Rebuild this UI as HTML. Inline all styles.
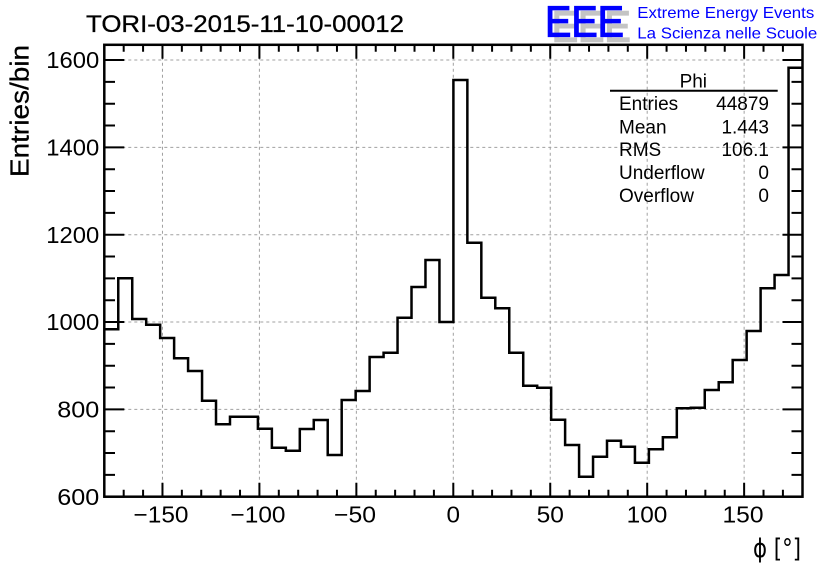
<!DOCTYPE html>
<html>
<head>
<meta charset="utf-8">
<style>
html,body{margin:0;padding:0;background:#fff;}
svg{display:block;}
text{font-family:"Liberation Sans",Arial,sans-serif;}
</style>
</head>
<body>
<svg width="836" height="572" viewBox="0 0 836 572" xmlns="http://www.w3.org/2000/svg">
<rect width="836" height="572" fill="#fff"/>

<!-- grid -->
<g stroke="#a0a0a0" stroke-width="1" stroke-dasharray="3,3" fill="none">
<path d="M162.47,44.8V496.7 M259.41,44.8V496.7 M356.36,44.8V496.7 M453.3,44.8V496.7 M550.24,44.8V496.7 M647.19,44.8V496.7 M744.13,44.8V496.7"/>
<path d="M104.3,409.37H802.5 M104.3,322.03H802.5 M104.3,234.7H802.5 M104.3,147.37H802.5 M104.3,60.03H802.5"/>
</g>

<!-- histogram -->
<path fill="none" stroke="#000" stroke-width="2.5" stroke-linejoin="miter" d="M104.3,329.3 H118.26 V278.3 H132.23 V319 H146.19 V324.7 H160.16 V338 H174.12 V358.3 H188.08 V371 H202.05 V400.7 H216.01 V424.3 H229.98 V416.7 H243.94 V416.7 H257.9 V428.7 H271.87 V447.7 H285.83 V450.7 H299.8 V429 H313.76 V420 H327.72 V455 H341.69 V400 H355.65 V391 H369.62 V357 H383.58 V352.7 H397.54 V317.7 H411.51 V287 H425.47 V260 H439.44 V322 H453.4 V80 H467.36 V242.7 H481.33 V297.7 H495.29 V308.3 H509.26 V352.7 H523.22 V385.7 H537.18 V387.7 H551.15 V419.7 H565.11 V445 H579.08 V476.7 H593.04 V456.7 H607 V440.7 H620.97 V446.7 H634.93 V462.7 H648.9 V449.3 H662.86 V437.3 H676.82 V408.3 H690.79 V407.7 H704.75 V390 H718.72 V382.3 H732.68 V360 H746.64 V331 H760.61 V288.3 H774.57 V275 H788.54 V67.7 H802.5"/>

<!-- frame -->
<rect x="104.3" y="44.8" width="698.2" height="451.9" fill="none" stroke="#000" stroke-width="2.5"/>

<!-- ticks -->
<g stroke="#000" stroke-width="2" fill="none">
<path d="M162.47,496.7V482.7 M259.41,496.7V482.7 M356.36,496.7V482.7 M453.3,496.7V482.7 M550.24,496.7V482.7 M647.19,496.7V482.7 M744.13,496.7V482.7"/>
<path d="M162.47,44.8V58.8 M259.41,44.8V58.8 M356.36,44.8V58.8 M453.3,44.8V58.8 M550.24,44.8V58.8 M647.19,44.8V58.8 M744.13,44.8V58.8"/>
<path d="M123.69,496.7V489.7 M143.08,496.7V489.7 M181.86,496.7V489.7 M201.24,496.7V489.7 M220.63,496.7V489.7 M240.02,496.7V489.7 M278.8,496.7V489.7 M298.19,496.7V489.7 M317.58,496.7V489.7 M336.97,496.7V489.7 M375.74,496.7V489.7 M395.13,496.7V489.7 M414.52,496.7V489.7 M433.91,496.7V489.7 M472.69,496.7V489.7 M492.08,496.7V489.7 M511.47,496.7V489.7 M530.86,496.7V489.7 M569.63,496.7V489.7 M589.02,496.7V489.7 M608.41,496.7V489.7 M627.8,496.7V489.7 M666.58,496.7V489.7 M685.97,496.7V489.7 M705.36,496.7V489.7 M724.74,496.7V489.7 M763.52,496.7V489.7 M782.91,496.7V489.7"/>
<path d="M123.69,44.8V51.8 M143.08,44.8V51.8 M181.86,44.8V51.8 M201.24,44.8V51.8 M220.63,44.8V51.8 M240.02,44.8V51.8 M278.8,44.8V51.8 M298.19,44.8V51.8 M317.58,44.8V51.8 M336.97,44.8V51.8 M375.74,44.8V51.8 M395.13,44.8V51.8 M414.52,44.8V51.8 M433.91,44.8V51.8 M472.69,44.8V51.8 M492.08,44.8V51.8 M511.47,44.8V51.8 M530.86,44.8V51.8 M569.63,44.8V51.8 M589.02,44.8V51.8 M608.41,44.8V51.8 M627.8,44.8V51.8 M666.58,44.8V51.8 M685.97,44.8V51.8 M705.36,44.8V51.8 M724.74,44.8V51.8 M763.52,44.8V51.8 M782.91,44.8V51.8"/>
<path d="M104.3,496.7H124.3 M104.3,409.37H124.3 M104.3,322.03H124.3 M104.3,234.7H124.3 M104.3,147.37H124.3 M104.3,60.03H124.3"/>
<path d="M802.5,496.7H782.5 M802.5,409.37H782.5 M802.5,322.03H782.5 M802.5,234.7H782.5 M802.5,147.37H782.5 M802.5,60.03H782.5"/>
<path d="M104.3,474.87H115 M104.3,453.03H115 M104.3,431.2H115 M104.3,387.53H115 M104.3,365.7H115 M104.3,343.87H115 M104.3,300.2H115 M104.3,278.37H115 M104.3,256.53H115 M104.3,212.87H115 M104.3,191.03H115 M104.3,169.2H115 M104.3,125.53H115 M104.3,103.7H115 M104.3,81.87H115"/>
<path d="M802.5,474.87H791.5 M802.5,453.03H791.5 M802.5,431.2H791.5 M802.5,387.53H791.5 M802.5,365.7H791.5 M802.5,343.87H791.5 M802.5,300.2H791.5 M802.5,278.37H791.5 M802.5,256.53H791.5 M802.5,212.87H791.5 M802.5,191.03H791.5 M802.5,169.2H791.5 M802.5,125.53H791.5 M802.5,103.7H791.5 M802.5,81.87H791.5"/>
</g>

<!-- y tick labels -->
<g font-size="23" fill="#000" text-anchor="end">
<text x="99.3" y="504.8" textLength="42" lengthAdjust="spacingAndGlyphs">600</text>
<text x="99.3" y="417.5" textLength="42" lengthAdjust="spacingAndGlyphs">800</text>
<text x="99.3" y="330.1" textLength="53" lengthAdjust="spacingAndGlyphs">1000</text>
<text x="99.3" y="242.8" textLength="53" lengthAdjust="spacingAndGlyphs">1200</text>
<text x="99.3" y="155.5" textLength="53" lengthAdjust="spacingAndGlyphs">1400</text>
<text x="99.3" y="68.1" textLength="53" lengthAdjust="spacingAndGlyphs">1600</text>
</g>

<!-- x tick labels -->
<g font-size="23" fill="#000" text-anchor="middle">
<text x="161" y="522.7" textLength="55" lengthAdjust="spacingAndGlyphs">−150</text>
<text x="258" y="522.7" textLength="55" lengthAdjust="spacingAndGlyphs">−100</text>
<text x="355" y="522.7" textLength="42" lengthAdjust="spacingAndGlyphs">−50</text>
<text x="453.3" y="522.7" textLength="13.5" lengthAdjust="spacingAndGlyphs">0</text>
<text x="550.3" y="522.7" textLength="27.3" lengthAdjust="spacingAndGlyphs">50</text>
<text x="647" y="522.7" textLength="40.7" lengthAdjust="spacingAndGlyphs">100</text>
<text x="743" y="522.7" textLength="41" lengthAdjust="spacingAndGlyphs">150</text>
</g>

<!-- axis titles -->
<text x="801" y="557" font-size="26" text-anchor="end" textLength="48" lengthAdjust="spacingAndGlyphs" style="font-family:'DejaVu Sans','Liberation Sans',sans-serif">ϕ [°]</text>
<text transform="translate(28.5,45) rotate(-90)" font-size="26" text-anchor="end" textLength="132" lengthAdjust="spacingAndGlyphs" stroke="#000" stroke-width="0.3">Entries/bin</text>

<!-- title -->
<text x="86" y="32" font-size="24" textLength="318" lengthAdjust="spacingAndGlyphs" stroke="#000" stroke-width="0.3">TORI-03-2015-11-10-00012</text>

<!-- stats box -->
<text x="693.3" y="87.3" font-size="19" text-anchor="middle">Phi</text>
<path d="M610,90.7H777.7" stroke="#000" stroke-width="2"/>
<g font-size="19" fill="#000">
<text x="619" y="110">Entries</text>
<text x="619" y="133.3">Mean</text>
<text x="619" y="156">RMS</text>
<text x="619" y="179">Underflow</text>
<text x="619" y="202">Overflow</text>
</g>
<g font-size="19" fill="#000" text-anchor="end">
<text x="769" y="110">44879</text>
<text x="769" y="133.3">1.443</text>
<text x="769" y="156">106.1</text>
<text x="769" y="179">0</text>
<text x="769" y="202">0</text>
</g>

<!-- EEE logo -->
<text x="551.7" y="41.7" font-size="44" fill="#c4c4c4" stroke="#c4c4c4" stroke-width="1.5" textLength="79" lengthAdjust="spacingAndGlyphs">EEE</text>
<text x="545" y="36.7" font-size="44" fill="#0000ff" stroke="#0000ff" stroke-width="1.2" textLength="79" lengthAdjust="spacingAndGlyphs">EEE</text>
<text x="637.3" y="17.8" font-size="16" fill="#0000ff" textLength="177" lengthAdjust="spacingAndGlyphs">Extreme Energy Events</text>
<text x="637.3" y="38.5" font-size="16" fill="#0000ff" textLength="180" lengthAdjust="spacingAndGlyphs">La Scienza nelle Scuole</text>
</svg>
</body>
</html>
